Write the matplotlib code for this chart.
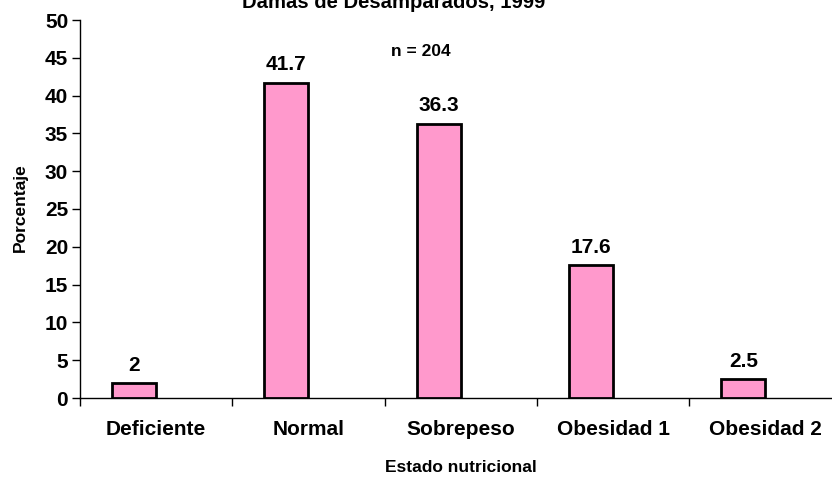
import numpy as np
import matplotlib.pyplot as plt

categorias = ['Deficiente', 'Normal', 'Sobrepeso', 'Obesidad 1', 'Obesidad 2']
porcentaje = [2, 41.7, 36.3, 17.6, 2.5]
etiquetas = ['2', '41.7', '36.3', '17.6', '2.5']
y_ticks = [0, 5, 10, 15, 20, 25, 30, 35, 40, 45, 50]

plt.rcParams['font.family'] = ['Liberation Sans', 'DejaVu Sans']
plt.rcParams['font.weight'] = 'bold'

fig = plt.figure(figsize=(8.32, 4.79), dpi=100)
# axes runs a bit past the right edge, as in the reference
ax = fig.add_axes([80 / 832, 1 - 398 / 479, 761.5 / 832, 378 / 479])

x = np.arange(len(categorias))
ax.bar(x - 0.145, porcentaje, width=0.29, color='#FF99CC',
       edgecolor='black', linewidth=2, zorder=3)

for xi, v, t in zip(x, porcentaje, etiquetas):
    ax.annotate(t, (xi - 0.145, v), xytext=(0, 6), textcoords='offset points',
                ha='center', va='bottom', fontsize=15, fontweight='bold')

ax.set_xlim(-0.5, len(categorias) - 0.5)
ax.set_ylim(0, 50)
ax.set_yticks(y_ticks)
ax.set_yticklabels([str(v) for v in y_ticks], fontsize=15, fontweight='bold')
ax.set_xticks(np.arange(len(categorias) + 1) - 0.5)
ax.set_xticklabels([])
ax.set_xticks(x, minor=True)
ax.set_xticklabels(categorias, minor=True, fontsize=15, fontweight='bold')
ax.tick_params(axis='x', which='minor', length=0, pad=16)
ax.tick_params(axis='x', which='major', length=6, width=1, direction='out')
ax.tick_params(axis='y', length=6, width=1, direction='out', pad=2.5)

for s in ['top', 'right']:
    ax.spines[s].set_visible(False)
for s in ['left', 'bottom']:
    ax.spines[s].set_linewidth(1)

fig.text(461 / 832, 1 - 467 / 479, 'Estado nutricional', ha='center', va='center',
         fontsize=12.5, fontweight='bold')
fig.text(20 / 832, 1 - 208 / 479, 'Porcentaje', ha='center', va='center',
         rotation=90, fontsize=12.5, fontweight='bold')
fig.text(421 / 832, 1 - 52 / 479, 'n = 204', ha='center', va='center',
         fontsize=12.5, fontweight='bold')
fig.text(394 / 832, 1 - 8 / 479, 'Damas de Desamparados, 1999', ha='center',
         va='baseline', fontsize=14.6, fontweight='bold')

fig.savefig('out.png', dpi=100)
